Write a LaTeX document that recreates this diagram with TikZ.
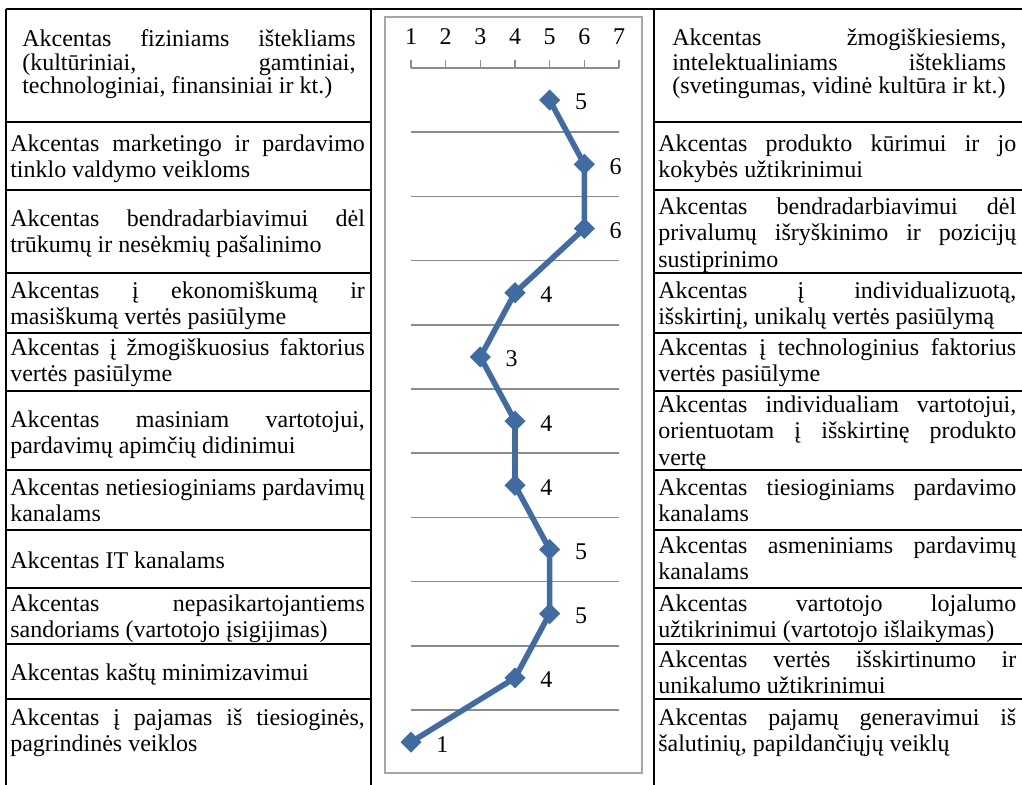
\documentclass[tikz,border=0pt]{standalone}
\usepackage{fontspec}
\setmainfont{Liberation Serif}
\usetikzlibrary{shapes.geometric}
\definecolor{series}{HTML}{416BA3}
\definecolor{gridgray}{HTML}{8C8C8C}
\definecolor{framegray}{HTML}{A6A6A6}
\newcommand\cellsetup{\hyphenpenalty=10000\exhyphenpenalty=10000\tolerance=10000\emergencystretch=0pt}
\newcommand\cellfont{\fontsize{18}{19.8}\selectfont\cellsetup}
\newcommand\tightcellfont{\fontsize{18}{17.25}\selectfont\cellsetup}
\begin{document}
\begin{tikzpicture}[x=0.75pt,y=-0.75pt,
  rule/.style={line width=1.4pt, black},
  vrule/.style={line width=1.2pt, black},
  cell/.style={anchor=west, inner sep=0pt, align=justify, font=\cellfont,
    execute at begin node=\strut, execute at end node=\strut},
  cellL/.style={cell, text width=266pt},
  cellR/.style={cell, text width=268.5pt},
  headcell/.style={font=\tightcellfont, text width=250pt},
  gridline/.style={gridgray, line width=1.1pt},
  series line/.style={series, line width=4.2pt, line join=round},
  marker/.style={diamond, fill=series, inner sep=0pt, minimum size=16pt},
  datalabel/.style={inner sep=0pt, font=\fontsize{18}{19.8}\selectfont},
  axislabel/.style={inner sep=0pt, font=\fontsize{18}{19.8}\selectfont}]

% page
\fill[white] (0,0) rectangle (1022,785);
\useasboundingbox (0,0) rectangle (1022,785);

% table frame
\draw[rule] (6,9) -- (1022,9);
\draw[vrule] (6,9) -- (6,785);
\draw[vrule] (371,9) -- (371,785);
\draw[vrule] (654,9) -- (654,785);
\foreach \y in {122,190,273,333,391,470,530,588,644,699}{
  \draw[rule] (6,\y) -- (371,\y);
  \draw[rule] (654,\y) -- (1022,\y);
}

% left column
\node[cellL, headcell] (L1) at (22,65) {Akcentas fiziniams ištekliams\linebreak (kultūriniai, gamtiniai,\linebreak technologiniai, finansiniai ir kt.)};
\node[cellL] (L2) at (10,159) {Akcentas marketingo ir pardavimo\linebreak tinklo valdymo veikloms};
\node[cellL] (L3) at (10,234) {Akcentas bendradarbiavimui dėl\linebreak trūkumų ir nesėkmių pašalinimo};
\node[cellL] (L4) at (10,306) {Akcentas į ekonomiškumą ir\linebreak masiškumą vertės pasiūlyme};
\node[cellL] (L5) at (10,363.5) {Akcentas į žmogiškuosius faktorius\linebreak vertės pasiūlyme};
\node[cellL] (L6) at (10,435) {Akcentas masiniam vartotojui,\linebreak pardavimų apimčių didinimui};
\node[cellL] (L7) at (10,503) {Akcentas netiesioginiams pardavimų\linebreak kanalams};
\node[cellL] (L8) at (10,563) {Akcentas IT kanalams};
\node[cellL] (L9) at (10,619.5) {Akcentas nepasikartojantiems\linebreak sandoriams (vartotojo įsigijimas)};
\node[cellL] (L10) at (10,675.5) {Akcentas kaštų minimizavimui};
\node[cellL] (L11) at (10,733.5) {Akcentas į pajamas iš tiesioginės,\linebreak pagrindinės veiklos};

% right column
\node[cellR, headcell, text width=250.5pt] (R1) at (672,65) {Akcentas žmogiškiesiems,\linebreak intelektualiniams ištekliams\linebreak (svetingumas, vidinė kultūra ir kt.)};
\node[cellR] (R2) at (658,159) {Akcentas produkto kūrimui ir jo\linebreak kokybės užtikrinimui};
\node[cellR] (R3) at (658,235.5) {Akcentas bendradarbiavimui dėl\linebreak privalumų išryškinimo ir pozicijų\linebreak sustiprinimo};
\node[cellR] (R4) at (658,306) {Akcentas į individualizuotą,\linebreak išskirtinį, unikalų vertės pasiūlymą};
\node[cellR] (R5) at (658,363.5) {Akcentas į technologinius faktorius\linebreak vertės pasiūlyme};
\node[cellR] (R6) at (658,433.5) {Akcentas individualiam vartotojui,\linebreak orientuotam į išskirtinę produkto\linebreak vertę};
\node[cellR] (R7) at (658,503) {Akcentas tiesioginiams pardavimo\linebreak kanalams};
\node[cellR] (R8) at (658,561.5) {Akcentas asmeniniams pardavimų\linebreak kanalams};
\node[cellR] (R9) at (658,619.5) {Akcentas vartotojo lojalumo\linebreak užtikrinimui (vartotojo išlaikymas)};
\node[cellR] (R10) at (658,675) {Akcentas vertės išskirtinumo ir\linebreak unikalumo užtikrinimui};
\node[cellR] (R11) at (658,733.5) {Akcentas pajamų generavimui iš\linebreak šalutinių, papildančiųjų veiklų};

% chart frame
\draw[framegray, line width=1.3pt, fill=white] (385,17) rectangle (642,773);

% value axis along the top
\draw[gridline] (411,68) -- (619,68);
\foreach \v in {1,...,7}{
  \draw[gridline] ({411+34.667*(\v-1)},60) -- ({411+34.667*(\v-1)},68);
  \node[axislabel] (ax\v) at ({411+34.667*(\v-1)},37) {\v};
}

% category gridlines
\foreach \k in {1,...,10}{
  \draw[gridline] (411,{68+64.2*\k}) -- (619,{68+64.2*\k});
}

% data points
\foreach \v [count=\i] in {5,6,6,4,3,4,4,5,5,4,1}{
  \coordinate (p\i) at ({411+34.667*(\v-1)},{100.1+64.2*(\i-1)});
}
\draw[series line] (p1) -- (p2) -- (p3) -- (p4) -- (p5) -- (p6) -- (p7) -- (p8) -- (p9) -- (p10) -- (p11);
\foreach \v [count=\i] in {5,6,6,4,3,4,4,5,5,4,1}{
  \node[marker] (m\i) at (p\i) {};
  \node[datalabel] (d\i) at ([xshift=23.5pt,yshift=-1.5pt]p\i) {\v};
}
\end{tikzpicture}
\end{document}
